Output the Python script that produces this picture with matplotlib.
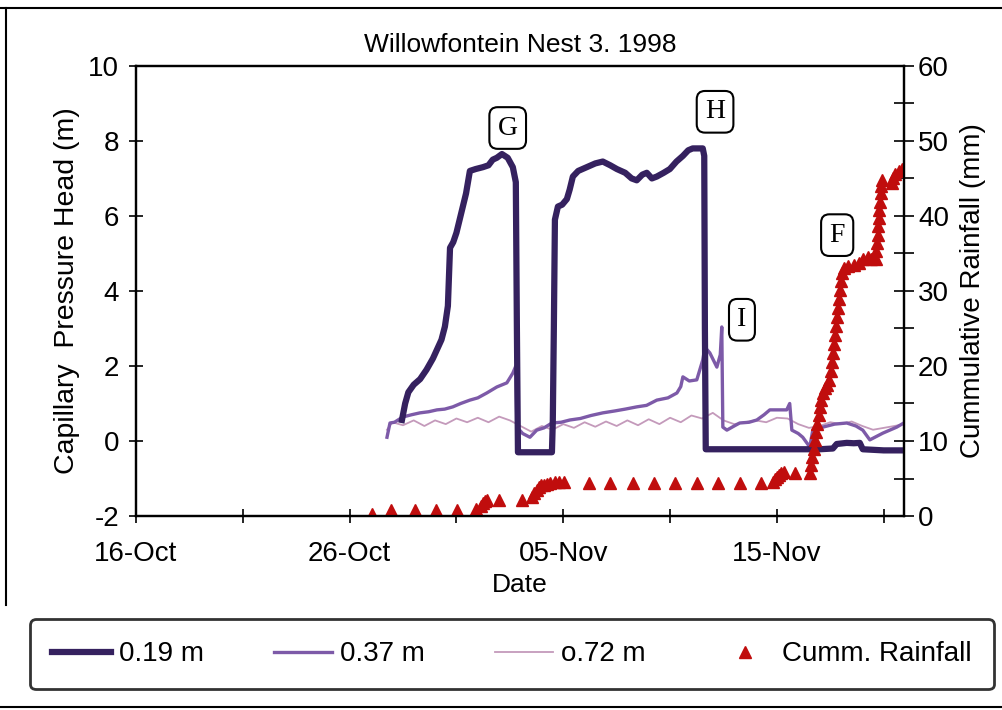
import numpy as np
import pandas as pd
import matplotlib
matplotlib.use("Agg")
import matplotlib.pyplot as plt
import matplotlib.dates as mdates
from matplotlib.lines import Line2D

plt.rcParams['font.family'] = ['Liberation Sans', 'DejaVu Sans']
plt.rcParams['axes.unicode_minus'] = False

start = pd.Timestamp("1998-10-16")
x_end = 35.95  # days after 16-Oct where the plot stops

# pressure head at 0.19 m  (days after 16-Oct, metres)
d_019 = [12.45, 12.6, 12.75, 13.0, 13.3, 13.6, 13.9, 14.1, 14.3, 14.46, 14.6, 14.7, 14.85, 15.0,
         15.15, 15.3, 15.45, 15.63, 15.9, 16.24, 16.5, 16.7, 16.89, 17.13, 17.4, 17.64, 17.78,
         17.83, 17.88, 18.5, 19.0, 19.47, 19.51, 19.56, 19.61, 19.75, 19.95, 20.17, 20.3, 20.45,
         20.7, 21.1, 21.5, 21.85, 22.2, 22.51, 22.9, 23.2, 23.44, 23.7, 23.91, 24.15, 24.38,
         24.7, 24.99, 25.3, 25.6, 25.85, 26.06, 26.3, 26.53, 26.6, 26.63, 26.67, 28.0, 30.0,
         32.0, 32.62, 32.8, 33.27, 33.6, 33.88, 34.02, 35.0, 35.98]
h_019 = [0.56, 1.0, 1.3, 1.5, 1.65, 1.9, 2.2, 2.45, 2.7, 3.05, 3.6, 5.15, 5.3, 5.55,
         5.9, 6.25, 6.6, 7.2, 7.25, 7.3, 7.35, 7.5, 7.55, 7.65, 7.55, 7.3, 6.9,
         3.0, -0.3, -0.3, -0.3, -0.3, 0.5, 3.0, 5.9, 6.25, 6.3, 6.45, 6.7, 7.05,
         7.2, 7.3, 7.4, 7.45, 7.35, 7.25, 7.15, 7.0, 6.95, 7.1, 7.15, 7.0, 7.05,
         7.15, 7.25, 7.45, 7.6, 7.75, 7.8, 7.8, 7.8, 7.6, 3.0, -0.22, -0.22, -0.22,
         -0.22, -0.2, -0.08, -0.05, -0.06, -0.05, -0.22, -0.25, -0.25]

# pressure head at 0.37 m
d_037 = [11.75, 11.89, 12.1, 12.49, 12.9, 13.29, 13.7, 14.09, 14.45, 14.83, 15.2, 15.63, 16.0,
         16.42, 16.89, 17.36, 17.64, 17.78, 17.83, 18.1, 18.44, 18.76, 19.1, 19.47, 19.9, 20.31,
         20.8, 21.3, 21.85, 22.4, 22.9, 23.44, 23.9, 24.38, 24.9, 25.32, 25.5, 25.6, 25.9, 26.25,
         26.53, 26.63, 26.86, 27.19, 27.35, 27.42, 27.47, 27.66, 28.0, 28.26, 28.7, 29.06, 29.4,
         29.67, 30.1, 30.46, 30.6, 30.7, 31.0, 31.21, 31.54, 31.68, 32.15, 32.7, 33.27, 33.7,
         34.02, 34.35, 34.96, 35.61, 35.94]
h_037 = [0.1, 0.48, 0.5, 0.64, 0.7, 0.75, 0.78, 0.83, 0.85, 0.91, 1.0, 1.09, 1.15,
         1.28, 1.44, 1.55, 1.81, 2.0, 0.37, 0.2, 0.1, 0.29, 0.35, 0.48, 0.5, 0.56,
         0.6, 0.68, 0.75, 0.8, 0.85, 0.91, 0.95, 1.09, 1.15, 1.28, 1.45, 1.71, 1.6, 1.63,
         2.16, 2.5, 2.35, 1.97, 2.3, 3.04, 0.37, 0.29, 0.4, 0.48, 0.5, 0.56, 0.7,
         0.83, 0.83, 0.83, 1.0, 0.29, 0.2, 0.1, -0.16, 0.29, 0.37, 0.45, 0.48, 0.4,
         0.29, 0.03, 0.21, 0.37, 0.48]

# pressure head at 0.72 m
d_072 = [11.75, 12.0, 12.5, 13.0, 13.5, 14.0, 14.5, 15.0, 15.5, 16.0, 16.5, 17.0, 17.5, 18.0,
         18.5, 19.0, 19.5, 20.0, 20.5, 21.0, 21.5, 22.0, 22.5, 23.0, 23.5, 24.0, 24.5, 25.0,
         25.5, 26.0, 26.5, 27.0, 27.5, 28.0, 28.5, 29.0, 29.5, 30.0, 30.5, 31.0, 31.5, 32.0,
         32.5, 33.0, 33.5, 34.0, 34.5, 35.0, 35.5, 35.95]
h_072 = [0.3, 0.5, 0.42, 0.55, 0.4, 0.55, 0.45, 0.6, 0.5, 0.62, 0.5, 0.65, 0.55, 0.4,
         0.25, 0.4, 0.3, 0.45, 0.35, 0.5, 0.38, 0.52, 0.4, 0.55, 0.42, 0.58, 0.45, 0.62,
         0.5, 0.68, 0.6, 0.75, 0.55, 0.45, 0.5, 0.55, 0.5, 0.62, 0.6, 0.45, 0.35, 0.4,
         0.5, 0.45, 0.52, 0.4, 0.3, 0.35, 0.4, 0.45]

# cumulative rainfall (days after 16-Oct, mm)
d_rain = [11.05, 11.95, 13.05, 14.05, 15.05, 15.9, 16.15, 16.25, 16.35, 16.45, 17.0, 18.05,
          18.55, 18.65, 18.75, 18.85, 18.95, 19.1, 19.25, 19.4, 19.6, 19.8, 20.05, 21.2, 22.2,
          23.25, 24.25, 25.25, 26.25, 27.25, 28.25, 29.25, 29.8, 29.9, 30.0, 30.1, 30.2, 30.35,
          30.85, 31.54, 31.6, 31.66, 31.72, 31.78, 31.84, 31.9, 31.96, 32.02, 32.08, 32.15, 32.25,
          32.35, 32.45, 32.52, 32.58, 32.63, 32.68, 32.73, 32.78, 32.83, 32.87, 32.91, 32.95,
          32.99, 33.03, 33.15, 33.35, 33.6, 33.85, 34.05, 34.25, 34.4, 34.62, 34.65, 34.68, 34.71,
          34.74, 34.77, 34.8, 34.83, 34.86, 34.89, 34.92, 35.4, 35.45, 35.55, 35.7, 35.85]
rain = [0.3, 0.8, 0.8, 0.8, 0.8, 0.9, 1.3, 1.7, 2.0, 2.1, 2.2, 2.1,
        2.6, 3.1, 3.5, 3.9, 4.1, 4.2, 4.3, 4.4, 4.5, 4.5, 4.5, 4.4, 4.4,
        4.4, 4.4, 4.4, 4.4, 4.4, 4.4, 4.4, 4.6, 4.9, 5.2, 5.5, 5.8, 5.9,
        5.7, 5.7, 6.8, 7.9, 9.0, 10.1, 11.2, 12.3, 13.4, 14.5, 15.5, 16.4, 17.0,
        17.5, 18.1, 19.3, 20.5, 21.7, 22.9, 24.1, 25.3, 26.5, 27.7, 28.9, 30.1,
        31.3, 32.4, 33.0, 33.3, 33.5, 33.7, 34.3, 34.5, 34.2, 34.2, 35.3, 36.4, 37.5,
        38.6, 39.7, 40.8, 41.9, 43.0, 44.0, 44.8, 44.4, 45.0, 45.6, 46.0, 46.2]

tick_days = [0, 10, 20, 30]
labels = ["G", "H", "I", "F"]
label_pos = [(0.484, 0.862), (0.754, 0.898), (0.789, 0.436), (0.913, 0.624)]


def to_dates(days):
    return start + pd.to_timedelta(np.asarray(days, dtype=float), unit="D")


fig = plt.figure(figsize=(10.02, 7.10), dpi=100)
ax = fig.add_axes([0.1357, 0.2732, 0.7665, 0.634])
ax2 = ax.twinx()

l1, = ax.plot(to_dates(d_019), h_019, color="#35215f", lw=4.5, label="0.19 m", zorder=4)
l2, = ax.plot(to_dates(d_037), h_037, color="#7d5aa8", lw=2.4, label="0.37 m", zorder=3)
l3, = ax.plot(to_dates(d_072), h_072, color="#c49abb", lw=1.3, label="o.72 m", zorder=2)
l4, = ax2.plot(to_dates(d_rain), rain, ls="none", marker="^", ms=9, color="#c00d0d",
               mec="#c00d0d", label="Cumm. Rainfall")

ax.set_xlim(start, start + pd.Timedelta(days=x_end))
ax.set_ylim(-2, 10)
ax2.set_ylim(0, 60)
ax.set_yticks(range(-2, 11, 2))
ax2.set_yticks(range(0, 61, 10))
ax2.set_yticks(range(5, 60, 10), minor=True)

ax.set_xticks(to_dates(tick_days))
ax.set_xticks(to_dates([5, 15, 25, 35]), minor=True)
ax.xaxis.set_major_formatter(mdates.DateFormatter("%d-%b"))

ax.tick_params(axis="y", direction="inout", length=10, width=1.2, labelsize=20, pad=7)
ax.tick_params(axis="x", which="both", direction="inout", length=10, width=1.2,
               labelsize=20, pad=13)
ax2.tick_params(axis="y", which="both", direction="inout", length=14, width=1.2,
                labelsize=20, pad=3)

for a in (ax, ax2):
    for s in a.spines.values():
        s.set_linewidth(1.6)

ax.set_xlabel("Date", fontsize=19, labelpad=4)
ax.set_ylabel("Capillary  Pressure Head (m)", fontsize=20.5, labelpad=6)
ax2.set_ylabel("Cummulative Rainfall (mm)", fontsize=20, labelpad=8)
ax.set_title("Willowfontein Nest 3. 1998", fontsize=19, pad=10)

for lab, (fx, fy) in zip(labels, label_pos):
    ax2.text(fx, fy, lab, transform=ax.transAxes, ha="center", va="center", fontsize=20,
             family=["Liberation Serif", "DejaVu Serif"], zorder=10,
             bbox=dict(boxstyle="round,pad=0.3", fc="white", ec="black", lw=1.5))

leg = fig.legend(handles=[l1, l2, l3, l4], loc="center", ncol=4, mode="expand",
                 bbox_to_anchor=(0.03, 0.027, 0.962, 0.103), fontsize=20, frameon=True,
                 fancybox=True, handlelength=2.1, handletextpad=0.3, borderpad=0.8,
                 borderaxespad=0, numpoints=1)
leg.get_frame().set_edgecolor("black")
leg.get_frame().set_linewidth(2)

# outer frame of the scanned figure
fig.add_artist(Line2D([0, 1], [0.9887, 0.9887], transform=fig.transFigure, color="black", lw=1.5))
fig.add_artist(Line2D([0.006, 0.006], [0.9887, 0.148], transform=fig.transFigure, color="black", lw=1.5))
fig.add_artist(Line2D([0, 1], [0.004, 0.004], transform=fig.transFigure, color="black", lw=1.5))

fig.savefig("out.png", dpi=100)
